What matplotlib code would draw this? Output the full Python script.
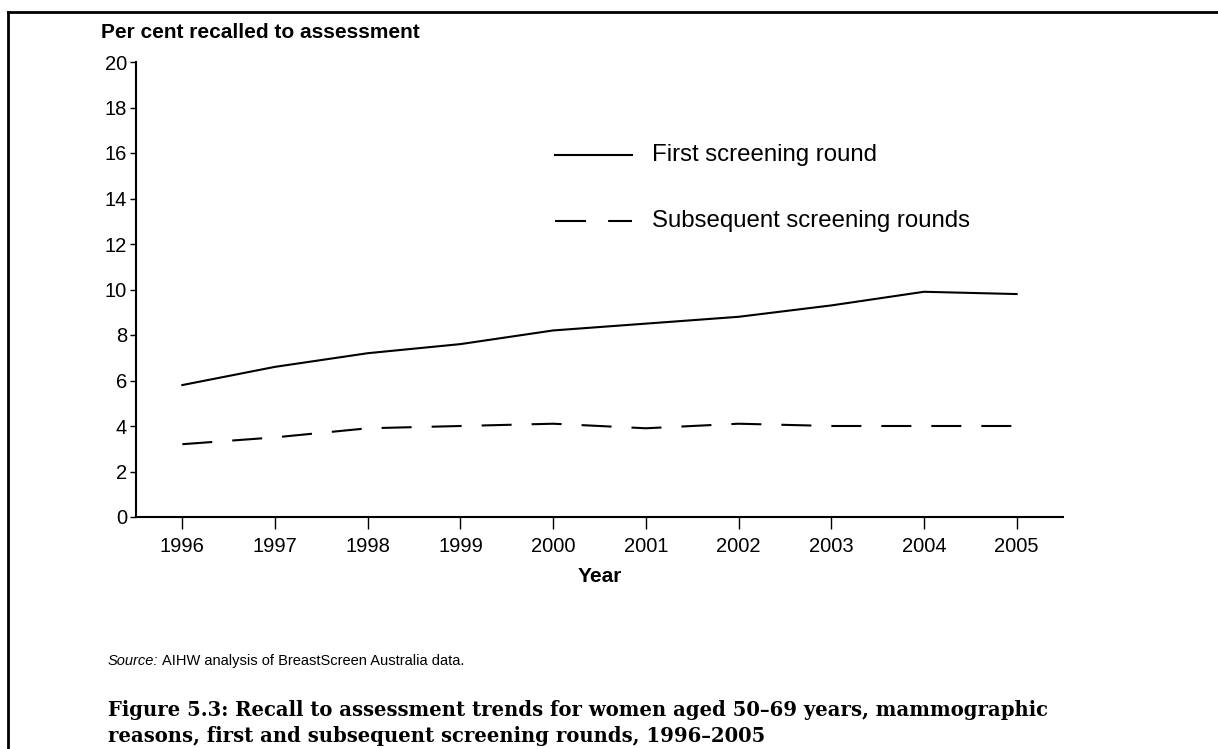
import matplotlib
matplotlib.use("Agg")
import matplotlib.pyplot as plt
from matplotlib.lines import Line2D

years = [1996, 1997, 1998, 1999, 2000, 2001, 2002, 2003, 2004, 2005]
first_round = [5.8, 6.6, 7.2, 7.6, 8.2, 8.5, 8.8, 9.3, 9.9, 9.8]
subsequent_rounds = [3.2, 3.5, 3.9, 4.0, 4.1, 3.9, 4.1, 4.0, 4.0, 4.0]
y_ticks = [0, 2, 4, 6, 8, 10, 12, 14, 16, 18, 20]
series_labels = ["First screening round", "Subsequent screening rounds"]

plt.rcParams['font.family'] = ['Liberation Sans', 'DejaVu Sans']

W, H = 1218, 749
fig = plt.figure(figsize=(W / 100, H / 100), dpi=100)

def fx(px):
    return px / W

def fy(py):
    return 1 - py / H

ax = fig.add_axes([fx(136), fy(517), fx(1063) - fx(136), fy(62) - fy(517)])
ax.plot(years, first_round, color='black', lw=1.5, solid_joinstyle='round')
ax.plot(years, subsequent_rounds, color='black', lw=1.5, dashes=(14.4, 9.6))
ax.set_xlim(1995.5, 2005.5)
ax.set_ylim(0, 20)
ax.set_xticks(years)
ax.set_yticks(y_ticks)
ax.tick_params(axis='both', direction='out', width=1, labelsize=14.5, colors='black')
ax.tick_params(axis='x', length=8.6, pad=5.5)
ax.tick_params(axis='y', length=4.3, pad=2)
for s in ['top', 'right']:
    ax.spines[s].set_visible(False)
for s in ['left', 'bottom']:
    ax.spines[s].set_linewidth(1.5)

# legend (manual to match placement)
fig.add_artist(Line2D([fx(555), fx(632)], [fy(155), fy(155)], color='black', lw=1.5))
fig.add_artist(Line2D([fx(555), fx(632)], [fy(221), fy(221)], color='black', lw=1.5, dashes=(14.9, 10.6)))
fig.text(fx(652), fy(155), series_labels[0], fontsize=17.3, va='center', ha='left')
fig.text(fx(652), fy(221), series_labels[1], fontsize=17.3, va='center', ha='left')

fig.text(fx(101), fy(33), "Per cent recalled to assessment", fontsize=15, fontweight='bold', va='center', ha='left')
fig.text(fx(600), fy(577), "Year", fontsize=15, fontweight='bold', va='center', ha='center')

t1 = fig.text(fx(108), fy(661), "Source:", fontsize=10.5, style='italic', va='center', ha='left')
fig.canvas.draw()
bb = t1.get_window_extent()
fig.text(bb.x1 / W + 0.003, fy(661), "AIHW analysis of BreastScreen Australia data.", fontsize=10.5, va='center', ha='left')

serif = ['DejaVu Serif']
cap1 = fig.text(fx(108), fy(710), "Figure 5.3: Recall to assessment trends for women aged 50\u201369 years, mammographic",
                fontsize=16, fontweight='bold', family=serif, va='center', ha='left')
cap2 = fig.text(fx(108), fy(736), "reasons, first and subsequent screening rounds, 1996\u20132005",
                fontsize=16, fontweight='bold', family=serif, va='center', ha='left')
fig.canvas.draw()
w1 = cap1.get_window_extent().width
fs = 16 * 940 / w1
cap1.set_fontsize(fs)
cap2.set_fontsize(fs)

# frame border
fig.add_artist(Line2D([fx(8), fx(8)], [fy(12), 0], color='black', lw=2))
fig.add_artist(Line2D([fx(8), 1], [fy(12), fy(12)], color='black', lw=2))

fig.savefig("out.png", dpi=100)
